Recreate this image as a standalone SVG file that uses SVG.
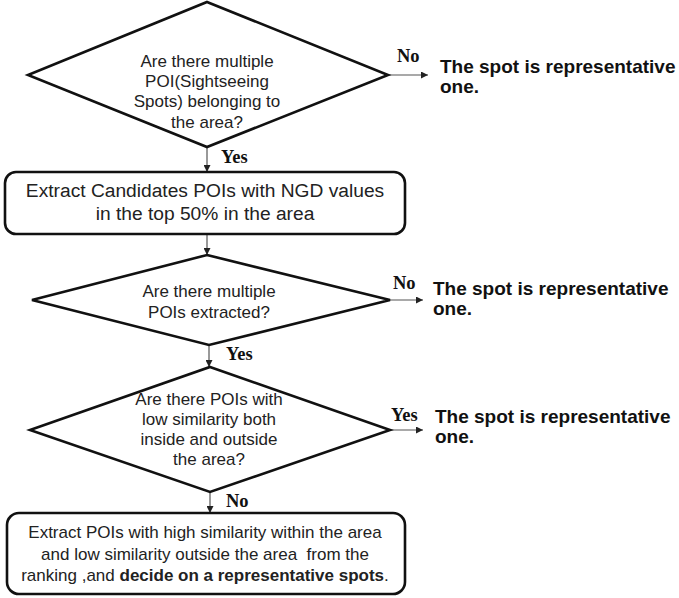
<svg xmlns="http://www.w3.org/2000/svg" width="679" height="598" viewBox="0 0 679 598">
  <style>
    .shape { fill: #ffffff; stroke: #111111; stroke-width: 2.6; stroke-linejoin: miter; }
    .box { fill: #ffffff; stroke: #111111; stroke-width: 2.6; }
    .q { font-family: "Liberation Sans", Arial, sans-serif; font-size: 17px; fill: #222222; text-anchor: middle; }
    .step { font-family: "Liberation Sans", Arial, sans-serif; font-size: 19.2px; fill: #222222; text-anchor: middle; }
    .step2 { font-family: "Liberation Sans", Arial, sans-serif; font-size: 17px; fill: #222222; text-anchor: middle; white-space: pre; }
    .result { font-family: "Liberation Sans", Arial, sans-serif; font-size: 19px; font-weight: bold; fill: #111111; }
    .lbl { font-family: "Liberation Serif", "Times New Roman", serif; font-size: 18.5px; font-weight: bold; fill: #111111; }
    .link { stroke: #555555; stroke-width: 1.2; fill: none; marker-end: url(#arrow); }
  </style>
  <defs>
    <marker id="arrow" viewBox="0 0 10 10" refX="10" refY="5" markerWidth="7" markerHeight="7" markerUnits="userSpaceOnUse" orient="auto">
      <path d="M0,0 L10,5 L0,10 z" fill="#222222"/>
    </marker>
  </defs>
  <rect width="679" height="598" fill="#ffffff"/>

  <!-- connectors -->
  <g id="connectors">
    <line class="link" x1="388" y1="75" x2="428" y2="75"/>
    <line class="link" x1="207" y1="147" x2="207" y2="172"/>
    <line class="link" x1="207" y1="234" x2="207" y2="255"/>
    <line class="link" x1="390" y1="300" x2="423" y2="300"/>
    <line class="link" x1="209" y1="345" x2="209" y2="367"/>
    <line class="link" x1="390" y1="430" x2="423" y2="430"/>
    <line class="link" x1="210" y1="492" x2="210" y2="513"/>
    <text class="lbl" x="397" y="62">No</text>
    <text class="lbl" x="221" y="163">Yes</text>
    <text class="lbl" x="393" y="289">No</text>
    <text class="lbl" x="226" y="360">Yes</text>
    <text class="lbl" x="391" y="421">Yes</text>
    <text class="lbl" x="226" y="507">No</text>
  </g>

  <!-- decision 1 -->
  <g id="q1">
    <polygon class="shape" points="207,2 388,75 207,147 28,75"/>
    <text class="q" x="207" y="67">Are there multiple</text>
    <text class="q" x="207" y="87">POI(Sightseeing</text>
    <text class="q" x="207" y="107">Spots) belonging to</text>
    <text class="q" x="207" y="128">the area?</text>
  </g>
  <g id="r1">
    <text class="result" x="440" y="73">The spot is representative</text>
    <text class="result" x="440" y="93">one.</text>
  </g>

  <!-- extract candidates -->
  <g id="s1">
    <rect class="box" x="5" y="172" width="400" height="62" rx="11" ry="11"/>
    <text class="step" x="205" y="197">Extract Candidates POIs with NGD values</text>
    <text class="step" x="205" y="220">in the top 50% in the area</text>
  </g>

  <!-- decision 2 -->
  <g id="q2">
    <polygon class="shape" points="207,255 390,300 209,345 32,300"/>
    <text class="q" x="209" y="297">Are there multiple</text>
    <text class="q" x="209" y="318">POIs extracted?</text>
  </g>
  <g id="r2">
    <text class="result" x="433" y="295">The spot is representative</text>
    <text class="result" x="433" y="315">one.</text>
  </g>

  <!-- decision 3 -->
  <g id="q3">
    <polygon class="shape" points="210,367 390,430 210,492 30,430"/>
    <text class="q" x="209" y="405">Are there POIs with</text>
    <text class="q" x="209" y="425">low similarity both</text>
    <text class="q" x="209" y="445">inside and outside</text>
    <text class="q" x="209" y="465">the area?</text>
  </g>
  <g id="r3">
    <text class="result" x="435" y="423">The spot is representative</text>
    <text class="result" x="435" y="443">one.</text>
  </g>

  <!-- final step -->
  <g id="s2">
    <rect class="box" x="7" y="513" width="398" height="81" rx="12" ry="12"/>
    <text class="step2" x="205" y="538">Extract POIs with high similarity within the area</text>
    <text class="step2" x="205" y="560">and low similarity outside the area  from the</text>
    <text class="step2" x="205" y="581">ranking ,and <tspan font-weight="bold">decide on a representative spots</tspan>.</text>
  </g>
</svg>
